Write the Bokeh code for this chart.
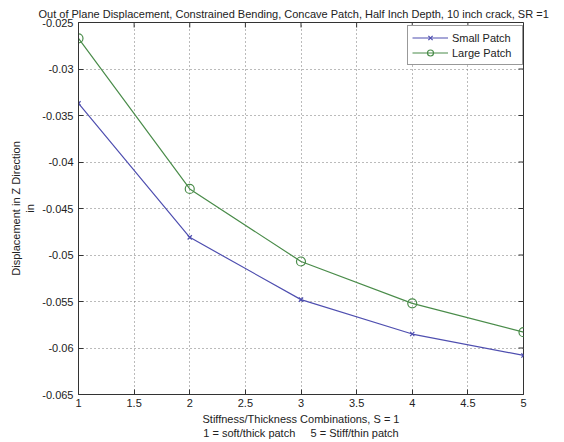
from bokeh.plotting import figure
from bokeh.models import FixedTicker, Legend, LegendItem, Range1d
from bokeh.embed import file_html
from bokeh.resources import INLINE

x_vals = [1, 2, 3, 4, 5]
small_patch = [-0.0337, -0.0481, -0.0548, -0.0585, -0.0608]
large_patch = [-0.0267, -0.0429, -0.0507, -0.0552, -0.0583]

x_ticks = [1, 1.5, 2, 2.5, 3, 3.5, 4, 4.5, 5]
x_tick_labels = ["1", "1.5", "2", "2.5", "3", "3.5", "4", "4.5", "5"]
y_ticks = [-0.065, -0.06, -0.055, -0.05, -0.045, -0.04, -0.035, -0.03, -0.025]
y_tick_labels = ["-0.065", "-0.06", "-0.055", "-0.05", "-0.045", "-0.04", "-0.035", "-0.03", "-0.025"]

title = "Out of Plane Displacement, Constrained Bending, Concave Patch, Half Inch Depth, 10 inch crack, SR =1"
x_label = "Stiffness/Thickness Combinations, S = 1\n1 = soft/thick patch\u00a0\u00a0\u00a0\u00a0\u00a05 = Stiff/thin patch"
y_label = "Displacement in Z Direction\nin"

FONT = "Liberation Sans"
BLUE = "#4f4fb0"
GREEN = "#4a8c4a"
DARK = "#333333"

X0, X1 = 1, 5
Y0, Y1 = -0.065, -0.025

p = figure(width=564, height=442, output_backend="svg", toolbar_location=None,
           x_range=Range1d(X0, X1), y_range=Range1d(Y0, Y1),
           min_border_left=78, min_border_right=41, min_border_top=22, min_border_bottom=48)

p.title.text = title
p.title.text_font = FONT
p.title.text_font_size = "11px"
p.title.text_font_style = "normal"
p.title.align = "left"
p.title.offset = -40
p.title.text_color = "#222222"
p.title.standoff = 5

p.outline_line_color = DARK
p.background_fill_color = "white"
p.border_fill_color = "white"

for ax in (p.xaxis[0], p.yaxis[0]):
    ax.major_label_text_font = FONT
    ax.major_label_text_font_size = "11px"
    ax.major_label_text_color = "#222222"
    ax.axis_label_text_font = FONT
    ax.axis_label_text_font_size = "11px"
    ax.axis_label_text_font_style = "normal"
    ax.axis_label_text_color = "#222222"
    ax.major_tick_in = 5
    ax.major_tick_out = 0
    ax.minor_tick_in = 0
    ax.minor_tick_out = 0
    ax.axis_line_color = DARK
    ax.major_tick_line_color = DARK

p.xaxis[0].ticker = FixedTicker(ticks=x_ticks)
p.xaxis[0].major_label_overrides = dict(zip(x_ticks, x_tick_labels))
p.xaxis[0].axis_label = x_label
p.xaxis[0].major_label_standoff = 4
p.xaxis[0].axis_label_standoff = 3

p.yaxis[0].ticker = FixedTicker(ticks=y_ticks)
p.yaxis[0].major_label_overrides = dict(zip(y_ticks, y_tick_labels))
p.yaxis[0].axis_label = y_label
p.yaxis[0].major_label_standoff = 5
p.yaxis[0].axis_label_standoff = 3

# tick marks on the top and right edges of the box (MATLAB style)
tick_dy = (Y1 - Y0) * 5 / 372
tick_dx = (X1 - X0) * 5 / 445
p.segment(x0=x_ticks, y0=[Y1] * len(x_ticks), x1=x_ticks, y1=[Y1 - tick_dy] * len(x_ticks),
          line_color=DARK, line_width=1)
p.segment(x0=[X1] * len(y_ticks), y0=y_ticks, x1=[X1 - tick_dx] * len(y_ticks), y1=y_ticks,
          line_color=DARK, line_width=1)

p.xgrid.ticker = FixedTicker(ticks=x_ticks)
p.ygrid.ticker = FixedTicker(ticks=y_ticks)
for g in (p.xgrid[0], p.ygrid[0]):
    g.grid_line_color = "#777777"
    g.grid_line_dash = "1 3"
    g.grid_line_width = 1

l1 = p.line(x_vals, small_patch, line_color=BLUE, line_width=1.2)
m1 = p.scatter(x_vals, small_patch, marker="x", size=6, line_color=BLUE, line_width=1.2)
l2 = p.line(x_vals, large_patch, line_color=GREEN, line_width=1.2)
m2 = p.scatter(x_vals, large_patch, marker="circle", size=9, line_color=GREEN,
               fill_color=None, line_width=1.2)

legend = Legend(items=[LegendItem(label="Small Patch", renderers=[l1, m1]),
                       LegendItem(label="Large Patch", renderers=[l2, m2])],
                location=(329, 329))
legend.label_text_font = FONT
legend.label_text_font_size = "11px"
legend.label_text_color = "#222222"
legend.border_line_color = DARK
legend.border_line_width = 1
legend.background_fill_alpha = 1
legend.margin = 0
legend.padding = 4
legend.spacing = 0
legend.glyph_width = 36
legend.glyph_height = 15
legend.label_height = 15
legend.label_width = 66
legend.label_standoff = 4
p.add_layout(legend)

open("out.html", "w").write(file_html(p, INLINE))
